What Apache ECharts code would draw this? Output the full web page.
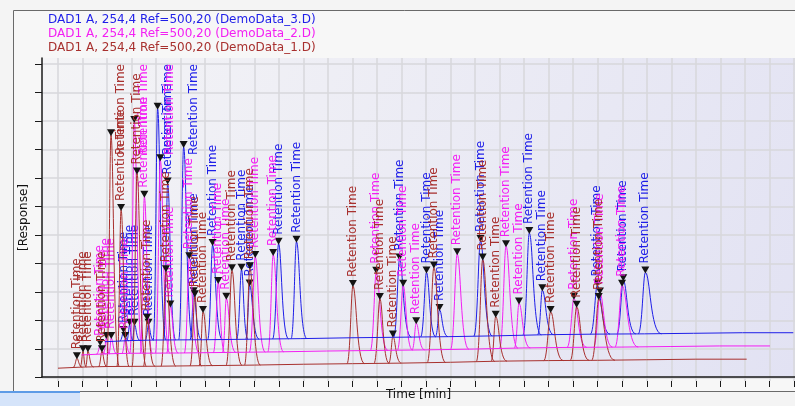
<!DOCTYPE html>
<html>
<head>
<meta charset="utf-8">
<script src="https://cdn.jsdelivr.net/npm/echarts@6/dist/echarts.min.js"></script>
<style>
html, body { margin: 0; padding: 0; background: #f4f4f4; }
#chart { width: 795px; height: 406px; }
</style>
</head>
<body>
<div id="chart"></div>
<script>
// three DAD runs overlaid, each one shifted right/up (offset overlay view)
const runNames = [
  'DAD1 A, 254,4 Ref=500,20 (DemoData_3.D)',
  'DAD1 A, 254,4 Ref=500,20 (DemoData_2.D)',
  'DAD1 A, 254,4 Ref=500,20 (DemoData_1.D)'
]
const runColors = ['#1e1ee8', '#f31ff3', '#a8302e']
const runShift = [2, 1, 0]          // overlay step of each run
const shiftTime = 0.95              // min per overlay step
const shiftResp = 47                // response per overlay step

// peak table (the demo runs share the same peaks)
const peakTime  = [0.77, 1.02, 1.22, 1.79, 2.16, 2.57, 3.22, 3.63, 4.40, 5.58, 5.91, 7.09, 7.82, 12.02, 13.12, 13.65, 15.32, 17.31, 17.84, 20.08, 21.14, 22.04]
const peakTop   = [54, 79, 79, 79, 847, 581, 711, 191, 363, 275, 219, 367, 374, 311, 265, 132, 377, 405, 202, 219, 237, 265]
const peakStart = [0.62, 0.90, 1.12, 1.65, 1.98, 2.40, 3.02, 3.48, 4.20, 5.38, 5.75, 6.85, 7.60, 11.78, 12.88, 13.48, 15.05, 17.05, 17.65, 19.80, 20.88, 21.75]
const peakEnd   = [1.00, 1.15, 1.45, 2.00, 2.50, 2.90, 3.60, 3.95, 4.80, 5.85, 6.30, 7.50, 8.25, 12.50, 13.50, 14.00, 15.80, 17.80, 18.30, 20.60, 21.65, 22.70]
const peakBase  = [22, 23, 23, 24, 25, 25, 26, 26, 26, 27, 28, 29, 30, 35, 36, 37, 39, 43, 44, 46, 47, 47]

// baseline drift
const baseTime  = [0, 1, 2, 4, 6, 8, 10, 12, 14, 16, 18, 20, 22, 24, 26, 28.07]
const baseLevel = [19, 23, 25, 26, 28, 30, 33, 35, 37, 40, 44, 46, 47, 49, 51, 51]

const labelText = 'Retention Time'
const labelFont = '12px "DejaVu Sans"'
const ctx = document.createElement('canvas').getContext('2d')
ctx.font = labelFont
const labelLen = ctx.measureText(labelText).width

function makeRender(color) {
  return function (params, api) {
    const p0 = api.coord([api.value(0), api.value(4)])
    const pt = api.coord([api.value(1), api.value(3)])
    const p1 = api.coord([api.value(2), api.value(4)])
    const dl = pt[0] - p0[0]
    const dr = p1[0] - pt[0]
    const path = 'M' + p0[0] + ' ' + p0[1] +
      ' C' + (p0[0] + dl * 0.55) + ' ' + p0[1] + ' ' + (pt[0] - dl * 0.3) + ' ' + pt[1] + ' ' + pt[0] + ' ' + pt[1] +
      ' C' + (pt[0] + dr * 0.3) + ' ' + pt[1] + ' ' + (p1[0] - dr * 0.7) + ' ' + p1[1] + ' ' + p1[0] + ' ' + p1[1]
    // label sits above the marker, unless it would run out of the plot
    const plotTop = params.coordSys.y
    let lx = pt[0]
    let ly = pt[1] - 9
    if (ly - labelLen < plotTop + 6) {
      lx = pt[0] + 10
      ly = plotTop + 6 + labelLen
    }
    return {
      type: 'group',
      children: [
        { type: 'path', shape: { pathData: path }, style: { fill: 'none', stroke: color, lineWidth: 1 } },
        { type: 'polygon', shape: { points: [[pt[0] - 4, pt[1] - 6], [pt[0] + 4, pt[1] - 6], [pt[0], pt[1] + 1]] }, style: { fill: '#141414' } },
        { type: 'text', x: lx, y: ly, rotation: Math.PI / 2,
          style: { text: labelText, fill: color, font: labelFont, align: 'left', verticalAlign: 'middle' } }
      ]
    }
  }
}

const series = []
runNames.forEach((name, k) => {
  const dx = runShift[k] * shiftTime
  const dy = runShift[k] * shiftResp
  series.push({
    name: name,
    type: 'line',
    xAxisIndex: 0,
    yAxisIndex: 0,
    showSymbol: false,
    lineStyle: { width: 1, color: runColors[k] },
    data: baseTime.map((t, i) => [t + dx, baseLevel[i] + dy])
  })
  series.push({
    name: name,
    type: 'custom',
    xAxisIndex: 0,
    yAxisIndex: 0,
    renderItem: makeRender(runColors[k]),
    encode: { x: [0, 1, 2], y: [3, 4] },
    data: peakTime.map((t, i) => [peakStart[i] + dx, t + dx, peakEnd[i] + dx, peakTop[i] + dy, peakBase[i] + dy])
  })
})

const chart = echarts.init(document.getElementById('chart'))
const gridLine = { show: true, lineStyle: { color: '#d7d7db', width: 1.5 } }
const axisText = { color: '#111', fontSize: 12, fontFamily: 'DejaVu Sans' }

chart.setOption({
  animation: false,
  backgroundColor: '#f4f4f4',
  graphic: [
    { type: 'rect', z: -1, shape: { x: 13.5, y: 10.5, width: 800, height: 381 }, style: { fill: '#f7f7f7', stroke: '#6a6a6a', lineWidth: 1 } },
    { type: 'rect', z: 5, shape: { x: 0, y: 391, width: 80, height: 15 }, style: { fill: '#d5e4fa' } },
    { type: 'line', z: 5, shape: { x1: 0, y1: 392, x2: 80, y2: 392 }, style: { stroke: '#5d9be6', lineWidth: 2 } }
  ].concat(runNames.map((name, k) => ({
    type: 'text', z: 5, x: 48, y: 20 + k * 14,
    style: { text: name, fill: runColors[k], font: '12px "DejaVu Sans"', verticalAlign: 'middle' }
  }))),
  grid: [
    {
      left: 42, right: 0, top: 58, bottom: 25, show: true, borderWidth: 0,
      backgroundColor: new echarts.graphic.LinearGradient(0, 0, 1, 1, [
        { offset: 0, color: '#f4f4f6' },
        { offset: 1, color: '#e2e2f3' }
      ])
    },
    { left: 58, right: 1, top: 58, bottom: 25 },
    { left: 42, right: 0, top: 64, bottom: 28.5 }
  ],
  xAxis: [
    {
      gridIndex: 0, type: 'value', min: -0.652, max: 30.04,
      axisLine: { show: true, onZero: false, lineStyle: { color: '#1a1a1a', width: 1.5 } },
      axisTick: { show: false }, axisLabel: { show: false }, splitLine: { show: false },
      name: 'Time [min]', nameLocation: 'middle', nameGap: 12, nameTextStyle: axisText
    },
    {
      gridIndex: 1, type: 'value', min: 0, max: 30, interval: 1,
      axisLine: { show: false }, axisLabel: { show: false },
      axisTick: { show: true, length: 6, lineStyle: { color: '#1a1a1a' } },
      splitLine: gridLine
    },
    { gridIndex: 2, type: 'value', show: false, min: 0, max: 1 }
  ],
  yAxis: [
    {
      gridIndex: 0, type: 'value', min: -12.3, max: 1121,
      axisLine: { show: true, onZero: false, lineStyle: { color: '#1a1a1a', width: 1.5 } },
      axisTick: { show: false }, axisLabel: { show: false }, splitLine: { show: false },
      name: '[Response]', nameLocation: 'middle', nameGap: 12, nameRotate: 90, nameTextStyle: axisText
    },
    { gridIndex: 1, type: 'value', show: false, min: 0, max: 1 },
    {
      gridIndex: 2, type: 'value', min: 0, max: 1100, interval: 100,
      axisLine: { show: false }, axisLabel: { show: false },
      axisTick: { show: true, length: 7, lineStyle: { color: '#1a1a1a' } },
      splitLine: gridLine
    }
  ],
  series: series
})
</script>
</body>
</html>
